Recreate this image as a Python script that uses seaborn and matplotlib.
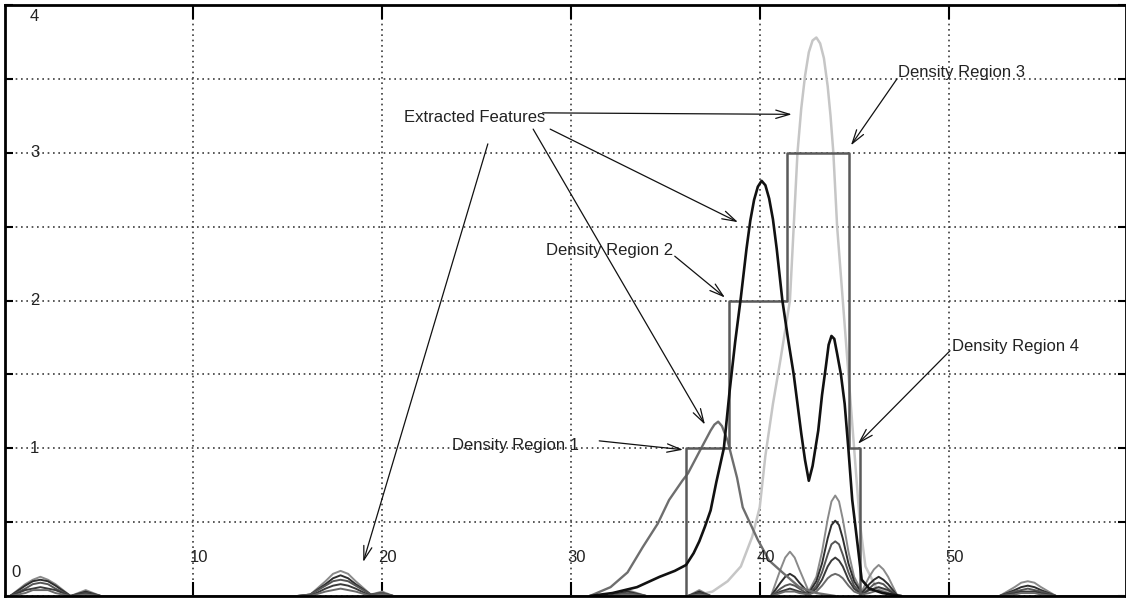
import numpy as np
import seaborn as sns
import matplotlib.pyplot as plt

# main extracted feature (dark, two peaks)
main_x = [31.0, 32.2, 33.5, 34.7, 35.5, 36.1, 36.5, 36.8, 37.1, 37.4, 37.7,
          38.1, 38.4, 38.7, 39.0, 39.3, 39.5, 39.7, 39.9, 40.1,
          40.3, 40.5, 40.7, 40.9, 41.2, 41.5, 41.8, 42.0, 42.2, 42.4, 42.6,
          42.8, 43.1, 43.3, 43.5, 43.65, 43.8, 43.95, 44.1, 44.3, 44.5, 44.7, 44.9,
          45.2, 45.4, 45.8, 46.5, 47.5]
main_y = [0.0, 0.02, 0.06, 0.13, 0.17, 0.21, 0.29, 0.37, 0.47, 0.58, 0.77,
          1.0, 1.38, 1.72, 2.02, 2.35, 2.54, 2.68, 2.77, 2.81,
          2.78, 2.69, 2.55, 2.35, 2.0, 1.74, 1.5, 1.3, 1.1, 0.92, 0.78,
          0.88, 1.12, 1.36, 1.55, 1.70, 1.76, 1.74, 1.64, 1.50, 1.30, 0.99, 0.65,
          0.33, 0.11, 0.05, 0.02, 0.0]

# medium grey feature
grey_x = [31.0, 32.1, 33.0, 33.8, 34.6, 35.2, 35.9, 36.2, 36.9, 37.4, 37.6, 37.8, 38.0, 38.3,
          38.8, 39.1, 39.5, 39.9, 40.5, 41.2, 42.1, 43.0, 44.0]
grey_y = [0.0, 0.06, 0.16, 0.33, 0.49, 0.65, 0.78, 0.83, 1.0, 1.12, 1.16, 1.18, 1.15, 1.05,
          0.80, 0.60, 0.49, 0.38, 0.24, 0.16, 0.06, 0.02, 0.0]

# light grey tall feature
light_x = [36.5, 37.5, 38.3, 39.0, 39.6, 40.0, 40.3, 40.7, 41.1, 41.6,
           41.8, 42.0, 42.2, 42.4, 42.6, 42.8, 43.0, 43.2, 43.4, 43.6,
           43.75, 43.9, 44.1, 44.4, 44.7, 45.0, 45.3, 45.6, 46.2, 47.5]
light_y = [0.0, 0.03, 0.1, 0.2, 0.4, 0.6, 0.95, 1.3, 1.6, 2.0,
           2.5, 3.0, 3.3, 3.52, 3.68, 3.76, 3.78, 3.74, 3.64, 3.45,
           3.25, 3.0, 2.5, 2.0, 1.5, 1.0, 0.5, 0.2, 0.05, 0.0]

# density regions (step outline)
step_x = [36.1, 36.1, 38.35, 41.45, 44.75, 45.3]
step_y = [0, 1, 2, 3, 1, 0]

# low background features sharing one x grid
bg_x = [0.0, 0.3, 1.1, 1.5, 1.9, 2.3, 2.7, 3.5, 4.3, 5.1,
        15.5, 16.2, 17.0, 17.4, 17.8, 18.2, 18.6, 19.4, 20.0, 20.6,
        32.0, 33.0, 34.0, 36.2, 36.8, 37.4,
        40.6, 41.1, 41.35, 41.6, 41.85, 42.1,
        42.6, 43.0, 43.3, 43.6, 43.8, 44.0, 44.2, 44.4, 44.7, 45.0, 45.4,
        45.8, 46.05, 46.3, 46.55, 46.8, 47.3,
        52.7, 53.5, 53.85, 54.2, 54.55, 54.9, 55.7, 59.4]
bg_1 = [0.0, 0.0, 0.08, 0.11, 0.13, 0.11, 0.08, 0.0, 0.04, 0.0,
        0.0, 0.01, 0.10, 0.15, 0.17, 0.15, 0.10, 0.01, 0.03, 0.0,
        0.0, 0.04, 0.0, 0.0, 0.04, 0.0,
        0.0, 0.18, 0.26, 0.30, 0.26, 0.18,
        0.03, 0.13, 0.30, 0.52, 0.64, 0.68, 0.64, 0.52, 0.30, 0.13, 0.03,
        0.13, 0.18, 0.21, 0.18, 0.13, 0.0,
        0.0, 0.06, 0.09, 0.10, 0.09, 0.06, 0.0, 0.0]
bg_2 = [0.0, 0.0, 0.07, 0.10, 0.11, 0.10, 0.07, 0.0, 0.03, 0.0,
        0.0, 0.01, 0.08, 0.12, 0.14, 0.12, 0.08, 0.01, 0.02, 0.0,
        0.0, 0.03, 0.0, 0.0, 0.03, 0.0,
        0.0, 0.09, 0.13, 0.15, 0.13, 0.09,
        0.02, 0.10, 0.22, 0.39, 0.48, 0.51, 0.48, 0.39, 0.22, 0.10, 0.02,
        0.08, 0.11, 0.13, 0.11, 0.08, 0.0,
        0.0, 0.04, 0.06, 0.07, 0.06, 0.04, 0.0, 0.0]
bg_3 = [0.0, 0.0, 0.05, 0.08, 0.09, 0.08, 0.05, 0.0, 0.02, 0.0,
        0.0, 0.01, 0.07, 0.10, 0.11, 0.10, 0.07, 0.01, 0.02, 0.0,
        0.0, 0.02, 0.0, 0.0, 0.02, 0.0,
        0.0, 0.05, 0.07, 0.08, 0.07, 0.05,
        0.01, 0.07, 0.16, 0.28, 0.35, 0.37, 0.35, 0.28, 0.16, 0.07, 0.01,
        0.05, 0.08, 0.09, 0.08, 0.05, 0.0,
        0.0, 0.03, 0.04, 0.05, 0.04, 0.03, 0.0, 0.0]
bg_4 = [0.0, 0.0, 0.04, 0.05, 0.06, 0.05, 0.04, 0.0, 0.02, 0.0,
        0.0, 0.0, 0.05, 0.07, 0.08, 0.07, 0.05, 0.0, 0.01, 0.0,
        0.0, 0.01, 0.0, 0.0, 0.02, 0.0,
        0.0, 0.03, 0.04, 0.05, 0.04, 0.03,
        0.01, 0.05, 0.11, 0.20, 0.24, 0.26, 0.24, 0.20, 0.11, 0.05, 0.01,
        0.04, 0.05, 0.06, 0.05, 0.04, 0.0,
        0.0, 0.02, 0.03, 0.03, 0.03, 0.02, 0.0, 0.0]
bg_5 = [0.0, 0.0, 0.02, 0.04, 0.04, 0.04, 0.02, 0.0, 0.01, 0.0,
        0.0, 0.0, 0.03, 0.04, 0.05, 0.04, 0.03, 0.0, 0.01, 0.0,
        0.0, 0.01, 0.0, 0.0, 0.01, 0.0,
        0.0, 0.02, 0.03, 0.03, 0.03, 0.02,
        0.01, 0.03, 0.07, 0.12, 0.14, 0.15, 0.14, 0.12, 0.07, 0.03, 0.01,
        0.02, 0.03, 0.04, 0.03, 0.02, 0.0,
        0.0, 0.01, 0.02, 0.02, 0.02, 0.01, 0.0, 0.0]
bg_colors = ['#8a8a8a', '#2e2e2e', '#555555', '#3a3a3a', '#6a6a6a']

x_ticks = [10, 20, 30, 40, 50]
x_tick_labels = ['10', '20', '30', '40', '50']
y_ticks = [0, 1, 2, 3, 4]
y_tick_labels = ['0', '1', '2', '3', '4']

features_label = 'Extracted Features'
features_pos = (21.16, 3.24)
features_tails = [(28.5, 3.27), (28.9, 3.16), (28.0, 3.16), (25.6, 3.06)]
features_tips = [(41.7, 3.26), (38.85, 2.53), (37.1, 1.16), (19.0, 0.23)]

region_labels = ['Density Region 1', 'Density Region 2', 'Density Region 3', 'Density Region 4']
region_pos = [(23.7, 1.02), (28.7, 2.34), (47.3, 3.54), (50.2, 1.69)]
region_tails = [(31.5, 1.05), (35.5, 2.30), (47.27, 3.50), (50.08, 1.66)]
region_tips = [(35.94, 0.99), (38.16, 2.02), (44.83, 3.05), (45.2, 1.03)]

sns.set_theme(style='white')
plt.rcParams['font.family'] = ['Liberation Sans', 'DejaVu Sans']

fig = plt.figure(figsize=(11.26, 5.98), dpi=100)
ax = fig.add_axes([4.5 / 1126, 2 / 598, 1 - 4.5 / 1126, 591 / 598])

sns.lineplot(x=light_x, y=light_y, ax=ax, color='#c6c6c6', lw=1.8, estimator=None, sort=False)
for ys, c in zip([bg_1, bg_2, bg_3, bg_4, bg_5], bg_colors):
    sns.lineplot(x=bg_x, y=ys, ax=ax, color=c, lw=1.4, estimator=None, sort=False)
sns.lineplot(x=grey_x, y=grey_y, ax=ax, color='#6e6e6e', lw=1.7, estimator=None, sort=False)
sns.lineplot(x=step_x, y=step_y, ax=ax, color='#5a5a5a', lw=1.8, estimator=None, sort=False,
             drawstyle='steps-post')
sns.lineplot(x=main_x, y=main_y, ax=ax, color='#111111', lw=1.9, estimator=None, sort=False)

ax.set_xlim(0, 59.4)
ax.set_ylim(0, 4)
ax.set_xticks(x_ticks)
ax.set_yticks(np.arange(0, 4.01, 0.5))
ax.set_xticklabels([])
ax.set_yticklabels([])
ax.set_xlabel('')
ax.set_ylabel('')
ax.grid(True, color='#3c3c3c', lw=1.2, linestyle=(0, (1, 2.2)))
ax.tick_params(axis='x', direction='in', length=10, width=1.5, color='black',
               top=True, bottom=True)
ax.tick_params(axis='y', direction='in', length=6, width=1.5, color='black',
               left=True, right=True)
for s in ax.spines.values():
    s.set_color('black')
    s.set_linewidth(2)

for t, lab in zip(x_ticks, x_tick_labels):
    ax.text(t + 0.3, 0.26, lab, ha='center', va='center', fontsize=12, color='#222222')
for t, lab in zip(y_ticks, y_tick_labels):
    xl = 0.6 if t == 0 else 1.6
    ax.text(xl, min(max(t, 0.16), 3.92), lab, ha='center', va='center', fontsize=12,
            color='#222222')

arrow = dict(arrowstyle='->,head_length=1.0,head_width=0.3', color='#111111', lw=0.9,
             shrinkA=0, shrinkB=0, mutation_scale=10)
ax.text(features_pos[0], features_pos[1], features_label, ha='left', va='center',
        fontsize=12, color='#222222')
for tail, tip in zip(features_tails, features_tips):
    ax.annotate('', xy=tip, xytext=tail, arrowprops=arrow)
for lab, pos, tail, tip in zip(region_labels, region_pos, region_tails, region_tips):
    ax.text(pos[0], pos[1], lab, ha='left', va='center', fontsize=12, color='#222222')
    ax.annotate('', xy=tip, xytext=tail, arrowprops=arrow)

fig.savefig('out.png', dpi=100, facecolor='white')
